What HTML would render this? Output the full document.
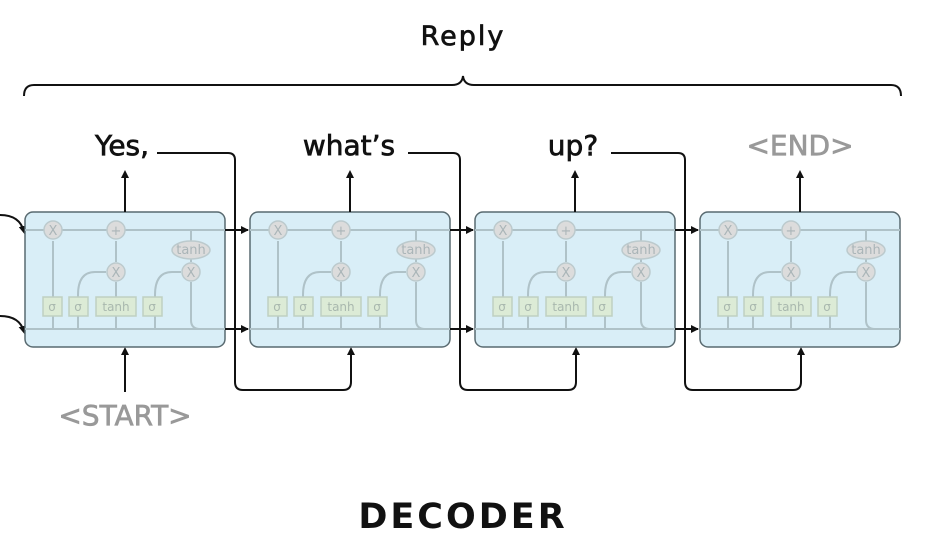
<!DOCTYPE html>
<html><head><meta charset="utf-8"><style>
html,body{margin:0;padding:0;background:#fff;width:925px;height:542px;overflow:hidden}
svg{display:block}
text{font-family:"DejaVu Sans","Liberation Sans",sans-serif}
.c{fill:#dcdcdc;stroke:#bccacd;stroke-width:1.5}
.ct{fill:#aab5b8;font-size:13px;text-anchor:middle}
.b{fill:#dcebd6;stroke:#bfd0c2;stroke-width:1.5}
.bt{fill:#a9b8ae;font-size:12px;text-anchor:middle}
.g{stroke:#afc2c8;stroke-width:2;fill:none}
.k{stroke:#111;stroke-width:2;fill:none}
.w{stroke-width:0.7}
</style></head><body>
<svg width="925" height="542" viewBox="0 0 925 542">
<defs>
<marker id="a" markerWidth="8" markerHeight="8" refX="6" refY="4" orient="auto" markerUnits="userSpaceOnUse"><path d="M0,0 L8,4 L0,8z" fill="#111"/></marker>
</defs>
<text x="463" y="45" font-size="27" text-anchor="middle" fill="#111" stroke="#111" class="w" letter-spacing="2">Reply</text>
<path class="k" d="M24,96 Q24,85 34,85 L452,85 Q462,85 463,76 Q464,85 474,85 L891,85 Q901,85 901,96"/>
<text x="122" y="155" font-size="28" text-anchor="middle" fill="#111" stroke="#111" class="w">Yes,</text>
<text x="349" y="155" font-size="28" text-anchor="middle" fill="#111" stroke="#111" class="w">what’s</text>
<text x="573" y="155" font-size="28" text-anchor="middle" fill="#111" stroke="#111" class="w">up?</text>
<text x="800" y="155" font-size="28" text-anchor="middle" fill="#999" stroke="#999" class="w">&lt;END&gt;</text>
<text x="125" y="425" font-size="28" text-anchor="middle" fill="#999" stroke="#999" class="w">&lt;START&gt;</text>
<text x="463" y="528" font-size="35" font-weight="bold" text-anchor="middle" fill="#111" letter-spacing="3">DECODER</text>
<path class="k" d="M157,153 L228,153 Q235,153 235,160 L235,382 Q235,390 243,390 L343,390 Q351,390 351,382 L351,349" marker-end="url(#a)"/>
<path class="k" d="M408,153 L453,153 Q460,153 460,160 L460,382 Q460,390 468,390 L568,390 Q576,390 576,382 L576,349" marker-end="url(#a)"/>
<path class="k" d="M611,153 L678,153 Q685,153 685,160 L685,382 Q685,390 693,390 L793,390 Q801,390 801,382 L801,349" marker-end="url(#a)"/>
<path class="k" d="M125,392 L125,349" marker-end="url(#a)"/>
<path class="k" d="M0,215 Q20,215 24,232" marker-end="url(#a)"/>
<path class="k" d="M0,316 Q20,316 24,332" marker-end="url(#a)"/>
<g transform="translate(0,0)">
<rect x="25" y="212" width="200" height="135" rx="8" fill="#d9eef7" stroke="#596a70" stroke-width="1.5"/>
<path class="g" d="M25,230 L225,230 M25,329 L225,329 M53,329 L53,241 M78,329 L78,295 M78,295 Q78,272 95,272 L106,272 M116,329 L116,282 M116,262 L116,241 M155,329 L155,295 Q155,272 172,272 L181,272 M191,230 L191,242 M191,258 L191,262 M191,282 L191,320 Q191,329 200,329"/>
<circle class="c" cx="53" cy="230" r="9"/><text class="ct" x="53" y="235">X</text>
<circle class="c" cx="116" cy="230" r="9"/><text class="ct" x="116" y="235" font-size="16">+</text>
<circle class="c" cx="116" cy="272" r="9"/><text class="ct" x="116" y="277">X</text>
<circle class="c" cx="191" cy="272" r="9"/><text class="ct" x="191" y="277">X</text>
<ellipse class="c" cx="191" cy="250" rx="19" ry="9"/><text class="ct" x="191" y="254" font-size="12">tanh</text>
<rect class="b" x="43" y="297" width="19" height="19"/><text class="bt" x="52" y="311">σ</text>
<rect class="b" x="69" y="297" width="19" height="19"/><text class="bt" x="78" y="311">σ</text>
<rect class="b" x="96" y="297" width="40" height="19"/><text class="bt" x="116" y="311">tanh</text>
<rect class="b" x="143" y="297" width="19" height="19"/><text class="bt" x="152" y="311">σ</text>
<path class="k" d="M125,212 L125,172" marker-end="url(#a)"/>
</g>
<g transform="translate(225,0)">
<rect x="25" y="212" width="200" height="135" rx="8" fill="#d9eef7" stroke="#596a70" stroke-width="1.5"/>
<path class="g" d="M25,230 L225,230 M25,329 L225,329 M53,329 L53,241 M78,329 L78,295 M78,295 Q78,272 95,272 L106,272 M116,329 L116,282 M116,262 L116,241 M155,329 L155,295 Q155,272 172,272 L181,272 M191,230 L191,242 M191,258 L191,262 M191,282 L191,320 Q191,329 200,329"/>
<circle class="c" cx="53" cy="230" r="9"/><text class="ct" x="53" y="235">X</text>
<circle class="c" cx="116" cy="230" r="9"/><text class="ct" x="116" y="235" font-size="16">+</text>
<circle class="c" cx="116" cy="272" r="9"/><text class="ct" x="116" y="277">X</text>
<circle class="c" cx="191" cy="272" r="9"/><text class="ct" x="191" y="277">X</text>
<ellipse class="c" cx="191" cy="250" rx="19" ry="9"/><text class="ct" x="191" y="254" font-size="12">tanh</text>
<rect class="b" x="43" y="297" width="19" height="19"/><text class="bt" x="52" y="311">σ</text>
<rect class="b" x="69" y="297" width="19" height="19"/><text class="bt" x="78" y="311">σ</text>
<rect class="b" x="96" y="297" width="40" height="19"/><text class="bt" x="116" y="311">tanh</text>
<rect class="b" x="143" y="297" width="19" height="19"/><text class="bt" x="152" y="311">σ</text>
<path class="k" d="M125,212 L125,172" marker-end="url(#a)"/>
</g>
<g transform="translate(450,0)">
<rect x="25" y="212" width="200" height="135" rx="8" fill="#d9eef7" stroke="#596a70" stroke-width="1.5"/>
<path class="g" d="M25,230 L225,230 M25,329 L225,329 M53,329 L53,241 M78,329 L78,295 M78,295 Q78,272 95,272 L106,272 M116,329 L116,282 M116,262 L116,241 M155,329 L155,295 Q155,272 172,272 L181,272 M191,230 L191,242 M191,258 L191,262 M191,282 L191,320 Q191,329 200,329"/>
<circle class="c" cx="53" cy="230" r="9"/><text class="ct" x="53" y="235">X</text>
<circle class="c" cx="116" cy="230" r="9"/><text class="ct" x="116" y="235" font-size="16">+</text>
<circle class="c" cx="116" cy="272" r="9"/><text class="ct" x="116" y="277">X</text>
<circle class="c" cx="191" cy="272" r="9"/><text class="ct" x="191" y="277">X</text>
<ellipse class="c" cx="191" cy="250" rx="19" ry="9"/><text class="ct" x="191" y="254" font-size="12">tanh</text>
<rect class="b" x="43" y="297" width="19" height="19"/><text class="bt" x="52" y="311">σ</text>
<rect class="b" x="69" y="297" width="19" height="19"/><text class="bt" x="78" y="311">σ</text>
<rect class="b" x="96" y="297" width="40" height="19"/><text class="bt" x="116" y="311">tanh</text>
<rect class="b" x="143" y="297" width="19" height="19"/><text class="bt" x="152" y="311">σ</text>
<path class="k" d="M125,212 L125,172" marker-end="url(#a)"/>
</g>
<g transform="translate(675,0)">
<rect x="25" y="212" width="200" height="135" rx="8" fill="#d9eef7" stroke="#596a70" stroke-width="1.5"/>
<path class="g" d="M25,230 L225,230 M25,329 L225,329 M53,329 L53,241 M78,329 L78,295 M78,295 Q78,272 95,272 L106,272 M116,329 L116,282 M116,262 L116,241 M155,329 L155,295 Q155,272 172,272 L181,272 M191,230 L191,242 M191,258 L191,262 M191,282 L191,320 Q191,329 200,329"/>
<circle class="c" cx="53" cy="230" r="9"/><text class="ct" x="53" y="235">X</text>
<circle class="c" cx="116" cy="230" r="9"/><text class="ct" x="116" y="235" font-size="16">+</text>
<circle class="c" cx="116" cy="272" r="9"/><text class="ct" x="116" y="277">X</text>
<circle class="c" cx="191" cy="272" r="9"/><text class="ct" x="191" y="277">X</text>
<ellipse class="c" cx="191" cy="250" rx="19" ry="9"/><text class="ct" x="191" y="254" font-size="12">tanh</text>
<rect class="b" x="43" y="297" width="19" height="19"/><text class="bt" x="52" y="311">σ</text>
<rect class="b" x="69" y="297" width="19" height="19"/><text class="bt" x="78" y="311">σ</text>
<rect class="b" x="96" y="297" width="40" height="19"/><text class="bt" x="116" y="311">tanh</text>
<rect class="b" x="143" y="297" width="19" height="19"/><text class="bt" x="152" y="311">σ</text>
<path class="k" d="M125,212 L125,172" marker-end="url(#a)"/>
</g>
<path class="k" d="M225,230 L248,230 M225,329 L248,329 M450,230 L473,230 M450,329 L473,329 M675,230 L698,230 M675,329 L698,329"/>
<path d="M241,226 L249,230 L241,234z M241,325 L249,329 L241,333z M466,226 L474,230 L466,234z M466,325 L474,329 L466,333z M691,226 L699,230 L691,234z M691,325 L699,329 L691,333z" fill="#111"/>
</svg>
</body></html>
